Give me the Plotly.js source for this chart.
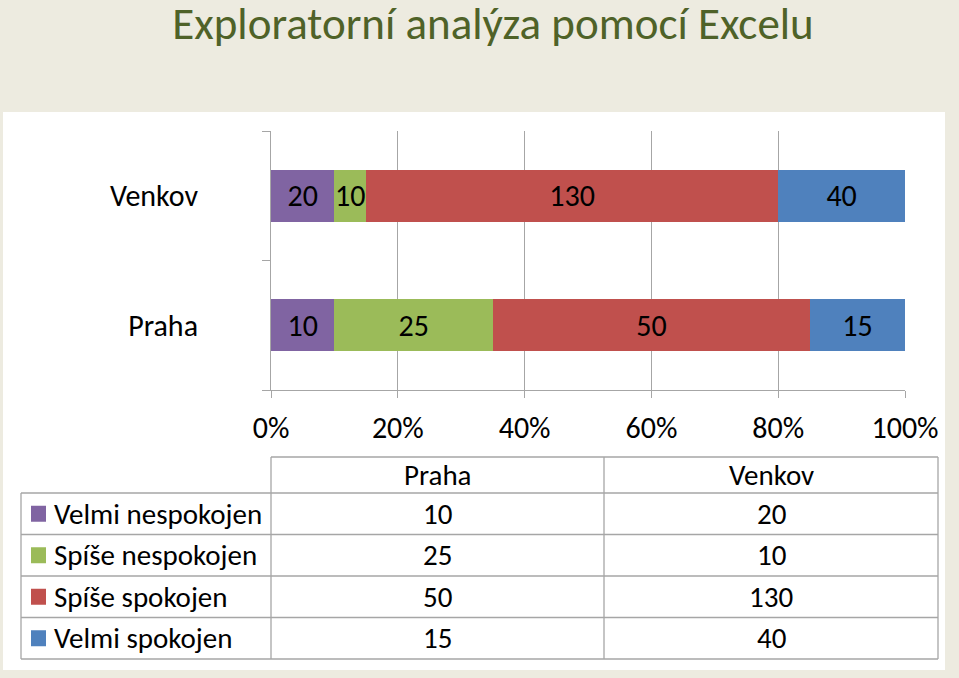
<!DOCTYPE html>
<html>
<head>
<meta charset="utf-8">
<script src="https://cdn.plot.ly/plotly-3.0.1.min.js"></script>
<style>
  html, body { margin: 0; padding: 0; background: #EDEBE0; }
  #chart { width: 959px; height: 678px; }
</style>
</head>
<body>
<div id="chart"></div>
<script>
// --- Data ---
const categories = ['Praha', 'Venkov'];
const seriesNames = ['Velmi nespokojen', 'Spíše nespokojen', 'Spíše spokojen', 'Velmi spokojen'];
const seriesColors = ['#8064A2', '#9BBB59', '#C0504D', '#4F81BD'];
const velmiNespokojen = [10, 20];
const spiseNespokojen = [25, 10];
const spiseSpokojen = [50, 130];
const velmiSpokojen = [15, 40];
const seriesValues = [velmiNespokojen, spiseNespokojen, spiseSpokojen, velmiSpokojen];
const xTicks = [0, 20, 40, 60, 80, 100];

const W = 959, H = 678;
const FONT = 'Carlito, Lato, sans-serif';
const GRID = '#A6A6A6';

// pixel -> paper fraction
const px = x => x / W;
const py = y => 1 - y / H;

// --- Bars (100% stacked) ---
const bars = seriesNames.map((name, i) => ({
    type: 'bar',
    orientation: 'h',
    name: name,
    y: categories,
    x: seriesValues[i],
    text: seriesValues[i].map(String),
    textposition: 'inside',
    insidetextanchor: 'middle',
    constraintext: 'none',
    textangle: 0,
    textfont: { family: FONT, size: 30, color: '#000' },
    marker: { color: seriesColors[i] },
    hoverinfo: 'none'
}));

// --- Data table (lines, legend keys and texts built from the arrays) ---
const colEdges = [21, 271, 604, 938];
const headerTop = 457, headerBottom = 493, rowH = 41.5;
const rowEdges = [headerBottom].concat(seriesNames.map((_, i) => headerBottom + (i + 1) * rowH));
const tableBottom = rowEdges[rowEdges.length - 1];
const line = (x0, y0, x1, y1) => ({
    type: 'line', xref: 'paper', yref: 'paper',
    x0: px(x0), y0: py(y0), x1: px(x1), y1: py(y1),
    line: { color: GRID, width: 1.3 }
});

const tableShapes = [];
// header row: only the value columns are boxed
tableShapes.push(line(colEdges[1], headerTop, colEdges[3], headerTop));
rowEdges.forEach(y => tableShapes.push(line(colEdges[0], y, colEdges[3], y)));
tableShapes.push(line(colEdges[0], headerBottom, colEdges[0], tableBottom));
colEdges.slice(1).forEach(x => tableShapes.push(line(x, headerTop, x, tableBottom)));
// legend keys
seriesColors.forEach((c, i) => {
    const cy = (rowEdges[i] + rowEdges[i + 1]) / 2;
    tableShapes.push({
        type: 'rect', xref: 'paper', yref: 'paper',
        x0: px(31), x1: px(46), y0: py(cy + 8), y1: py(cy - 8),
        fillcolor: c, line: { width: 0 }
    });
});

const tableText = [];
const txt = (text, x, y, anchor) => ({
    text: text, xref: 'paper', yref: 'paper', x: px(x), y: py(y),
    xanchor: anchor, yanchor: 'middle', showarrow: false,
    font: { family: FONT, size: 29, color: '#000' }
});
categories.forEach((c, j) => {
    const cx = (colEdges[j + 1] + colEdges[j + 2]) / 2;
    tableText.push(txt(c, cx, (headerTop + headerBottom) / 2, 'center'));
    seriesValues.forEach((vals, i) => {
        tableText.push(txt(String(vals[j]), cx, (rowEdges[i] + rowEdges[i + 1]) / 2, 'center'));
    });
});
seriesNames.forEach((name, i) => {
    tableText.push(txt(name, 52, (rowEdges[i] + rowEdges[i + 1]) / 2, 'left'));
});

const layout = {
    width: W,
    height: H,
    margin: { l: 0, r: 0, t: 0, b: 0 },
    paper_bgcolor: '#EDEBE0',
    plot_bgcolor: 'white',
    showlegend: false,
    barmode: 'stack',
    barnorm: 'percent',
    bargap: 0.6,
    font: { family: FONT, size: 30, color: '#000' },
    title: {
        text: 'Exploratorní analýza pomocí Excelu',
        font: { family: FONT, size: 45, color: '#4F6228' },
        x: px(493), xanchor: 'center',
        y: py(23), yanchor: 'middle'
    },
    xaxis: {
        domain: [px(271), px(905)],
        range: [0, 100],
        tickvals: xTicks,
        ticktext: xTicks.map(t => t + '%'),
        ticks: 'outside',
        ticklen: 7,
        tickcolor: GRID,
        ticklabelstandoff: 4,
        showgrid: true,
        gridcolor: GRID,
        showline: true,
        linecolor: GRID,
        zeroline: false,
        fixedrange: true,
        tickfont: { family: FONT, size: 30, color: '#000' }
    },
    yaxis: {
        domain: [py(390), py(131)],
        range: [-0.5, 1.5],
        type: 'category',
        ticks: 'outside',
        tickson: 'boundaries',
        ticklen: 8,
        tickcolor: GRID,
        ticklabelstandoff: 66,
        showline: true,
        linecolor: GRID,
        showgrid: false,
        fixedrange: true,
        tickfont: { family: FONT, size: 30, color: '#000' }
    },
    shapes: [{
        type: 'rect', layer: 'below', xref: 'paper', yref: 'paper',
        x0: px(3), x1: px(945), y0: py(670), y1: py(112),
        fillcolor: 'white', line: { width: 0 }
    }].concat(tableShapes),
    annotations: tableText
};

Plotly.newPlot('chart', bars, layout, { displayModeBar: false, staticPlot: true });
</script>
</body>
</html>
